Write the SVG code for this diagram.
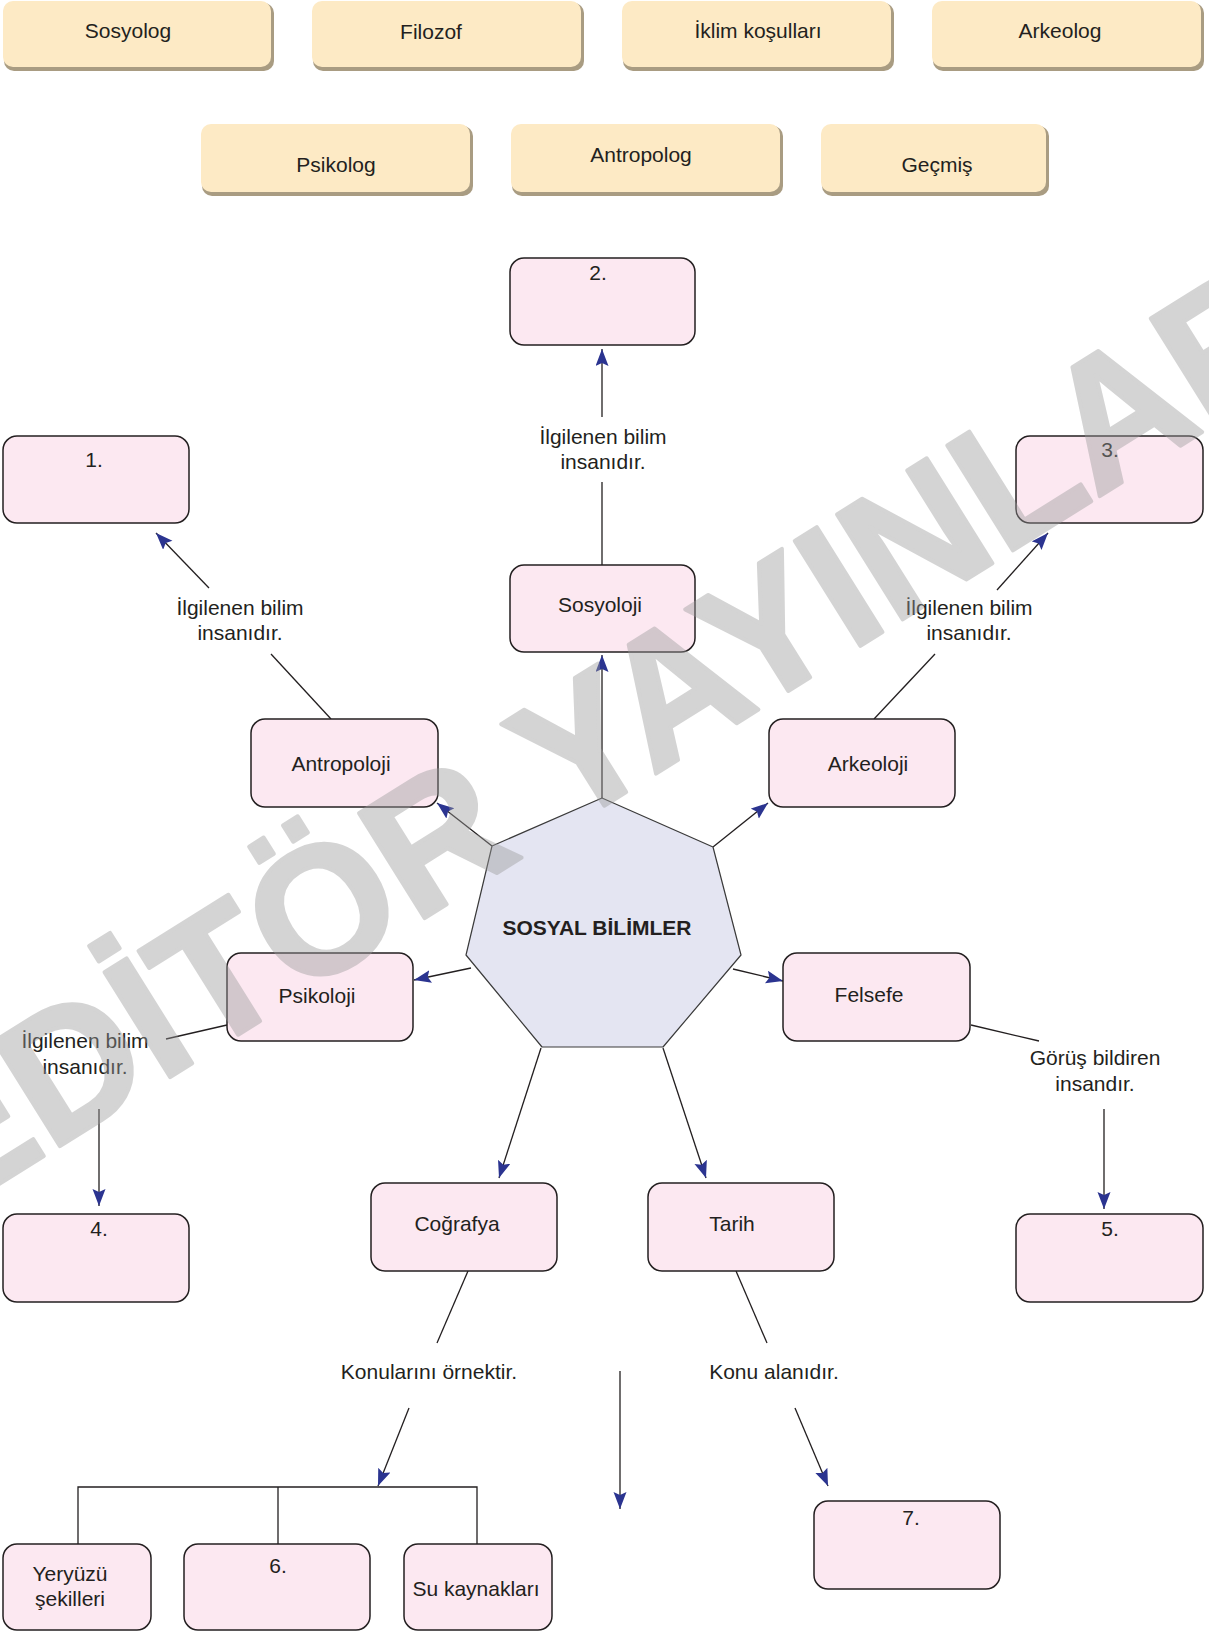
<svg xmlns="http://www.w3.org/2000/svg" width="1209" height="1631" viewBox="0 0 1209 1631">
<style>
text{font-family:"Liberation Sans",Arial,sans-serif;font-size:21px;fill:#231f20;text-anchor:middle}
.btn{fill:#fdeac5}
.btnsh{fill:#a99c82}
.box{fill:#fce8f1;stroke:#231f20;stroke-width:1.5}
.hex{fill:#e4e5f2;stroke:#3a3a3a;stroke-width:1.2;stroke-linejoin:round}
.ln{stroke:#231f20;stroke-width:1.3;fill:none}
.ar{stroke:#231f20;stroke-width:1.3;fill:none;marker-end:url(#ah)}
.bold{font-weight:bold}
.wm{font-family:"Liberation Sans",Arial,sans-serif;font-weight:bold;font-size:180px;fill:#9a9a9a;stroke:#9a9a9a;stroke-width:4;stroke-linejoin:round;text-anchor:start}
</style>
<defs>
<marker id="ah" markerUnits="userSpaceOnUse" markerWidth="18" markerHeight="14" refX="17" refY="6.5" orient="auto">
<path d="M0,0 L17,6.5 L0,13 L3,6.5 Z" fill="#2b3490"/>
</marker>
</defs>
<rect width="1209" height="1631" fill="#ffffff"/>

<g id="bank">
<g id="b-sosyolog"><rect class="btnsh" x="4" y="3" width="270" height="68" rx="10"/><rect class="btn" x="3" y="1" width="268" height="66" rx="10"/><text x="128" y="38">Sosyolog</text></g>
<g id="b-filozof"><rect class="btnsh" x="313" y="3" width="271" height="68" rx="10"/><rect class="btn" x="312" y="1" width="269" height="66" rx="10"/><text x="431" y="39">Filozof</text></g>
<g id="b-iklim"><rect class="btnsh" x="623" y="3" width="271" height="68" rx="10"/><rect class="btn" x="622" y="1" width="269" height="66" rx="10"/><text x="758" y="38">İklim koşulları</text></g>
<g id="b-arkeolog"><rect class="btnsh" x="933" y="3" width="271" height="68" rx="10"/><rect class="btn" x="932" y="1" width="269" height="66" rx="10"/><text x="1060" y="38">Arkeolog</text></g>
<g id="b-psikolog"><rect class="btnsh" x="202" y="126" width="271" height="70" rx="10"/><rect class="btn" x="201" y="124" width="269" height="68" rx="10"/><text x="336" y="172">Psikolog</text></g>
<g id="b-antropolog"><rect class="btnsh" x="512" y="126" width="271" height="70" rx="10"/><rect class="btn" x="511" y="124" width="269" height="68" rx="10"/><text x="641" y="162">Antropolog</text></g>
<g id="b-gecmis"><rect class="btnsh" x="822" y="126" width="227" height="70" rx="10"/><rect class="btn" x="821" y="124" width="225" height="68" rx="10"/><text x="937" y="172">Geçmiş</text></g>
</g>

<g id="connectors">
<line class="ar" x1="602" y1="798" x2="602" y2="655"/>
<line class="ar" x1="492" y1="846" x2="437" y2="803"/>
<line class="ar" x1="713" y1="847" x2="768" y2="803"/>
<line class="ar" x1="471" y1="968" x2="414" y2="980"/>
<line class="ar" x1="733" y1="969" x2="783" y2="981"/>
<line class="ar" x1="541" y1="1048" x2="499" y2="1178"/>
<line class="ar" x1="663" y1="1048" x2="706" y2="1178"/>
<line class="ln" x1="602" y1="565" x2="602" y2="482"/>
<line class="ar" x1="602" y1="417" x2="602" y2="349"/>
<line class="ln" x1="331" y1="719" x2="271" y2="654"/>
<line class="ar" x1="209" y1="588" x2="156" y2="533"/>
<line class="ln" x1="874" y1="719" x2="935" y2="654"/>
<line class="ar" x1="997" y1="590" x2="1048" y2="533"/>
<line class="ln" x1="227" y1="1025" x2="166" y2="1039"/>
<line class="ar" x1="99" y1="1109" x2="99" y2="1206"/>
<line class="ln" x1="971" y1="1025" x2="1039" y2="1041"/>
<line class="ar" x1="1104" y1="1109" x2="1104" y2="1209"/>
<line class="ln" x1="468" y1="1271" x2="437" y2="1343"/>
<line class="ar" x1="409" y1="1408" x2="378" y2="1486"/>
<line class="ln" x1="736" y1="1271" x2="767" y2="1343"/>
<line class="ar" x1="795" y1="1408" x2="828" y2="1486"/>
<line class="ar" x1="620" y1="1371" x2="620" y2="1509"/>
<path class="ln" d="M78,1544 V1487 H477 V1544 M278,1487 V1544" stroke="#333"/>
</g>

<g id="labels">
<text x="603" y="444">İlgilenen bilim</text><text x="603" y="469">insanıdır.</text>
<text x="240" y="615">İlgilenen bilim</text><text x="240" y="640">insanıdır.</text>
<text x="969" y="615">İlgilenen bilim</text><text x="969" y="640">insanıdır.</text>
<text x="85" y="1048">İlgilenen bilim</text><text x="85" y="1074">insanıdır.</text>
<text x="1095" y="1065">Görüş bildiren</text><text x="1095" y="1091">insandır.</text>
<text x="429" y="1379">Konularını örnektir.</text>
<text x="774" y="1379">Konu alanıdır.</text>
</g>

<g id="center"><polygon class="hex" points="602,798 713,847 741,955 663,1047 542,1047 466,955 492,846"/><text class="bold" x="597" y="935">SOSYAL BİLİMLER</text></g>
<g id="n-sosyoloji"><rect class="box" x="510" y="565" width="185" height="87" rx="14"/><text x="600" y="612">Sosyoloji</text></g>
<g id="n-antropoloji"><rect class="box" x="251" y="719" width="187" height="88" rx="14"/><text x="341" y="771">Antropoloji</text></g>
<g id="n-arkeoloji"><rect class="box" x="769" y="719" width="186" height="88" rx="14"/><text x="868" y="771">Arkeoloji</text></g>
<g id="n-psikoloji"><rect class="box" x="227" y="953" width="186" height="88" rx="14"/><text x="317" y="1003">Psikoloji</text></g>
<g id="n-felsefe"><rect class="box" x="783" y="953" width="187" height="88" rx="14"/><text x="869" y="1002">Felsefe</text></g>
<g id="n-cografya"><rect class="box" x="371" y="1183" width="186" height="88" rx="14"/><text x="457" y="1231">Coğrafya</text></g>
<g id="n-tarih"><rect class="box" x="648" y="1183" width="186" height="88" rx="14"/><text x="732" y="1231">Tarih</text></g>
<g id="n-1"><rect class="box" x="3" y="436" width="186" height="87" rx="14"/><text x="94" y="467">1.</text></g>
<g id="n-2"><rect class="box" x="510" y="258" width="185" height="87" rx="14"/><text x="598" y="280">2.</text></g>
<g id="n-3"><rect class="box" x="1016" y="436" width="187" height="87" rx="14"/><text x="1110" y="457">3.</text></g>
<g id="n-4"><rect class="box" x="3" y="1214" width="186" height="88" rx="14"/><text x="99" y="1236">4.</text></g>
<g id="n-5"><rect class="box" x="1016" y="1214" width="187" height="88" rx="14"/><text x="1110" y="1236">5.</text></g>
<g id="n-7"><rect class="box" x="814" y="1501" width="186" height="88" rx="14"/><text x="911" y="1525">7.</text></g>
<g id="n-yeryuzu"><rect class="box" x="3" y="1544" width="148" height="86" rx="14"/><text x="70" y="1581">Yeryüzü</text><text x="70" y="1606">şekilleri</text></g>
<g id="n-6"><rect class="box" x="184" y="1544" width="186" height="86" rx="14"/><text x="278" y="1573">6.</text></g>
<g id="n-su"><rect class="box" x="404" y="1544" width="148" height="86" rx="14"/><text x="476" y="1596">Su kaynakları</text></g>

<g id="watermark" opacity="0.42"><text class="wm" transform="translate(-52,1216) rotate(-32)">EDİTÖR YAYINLARI</text></g>
</svg>
